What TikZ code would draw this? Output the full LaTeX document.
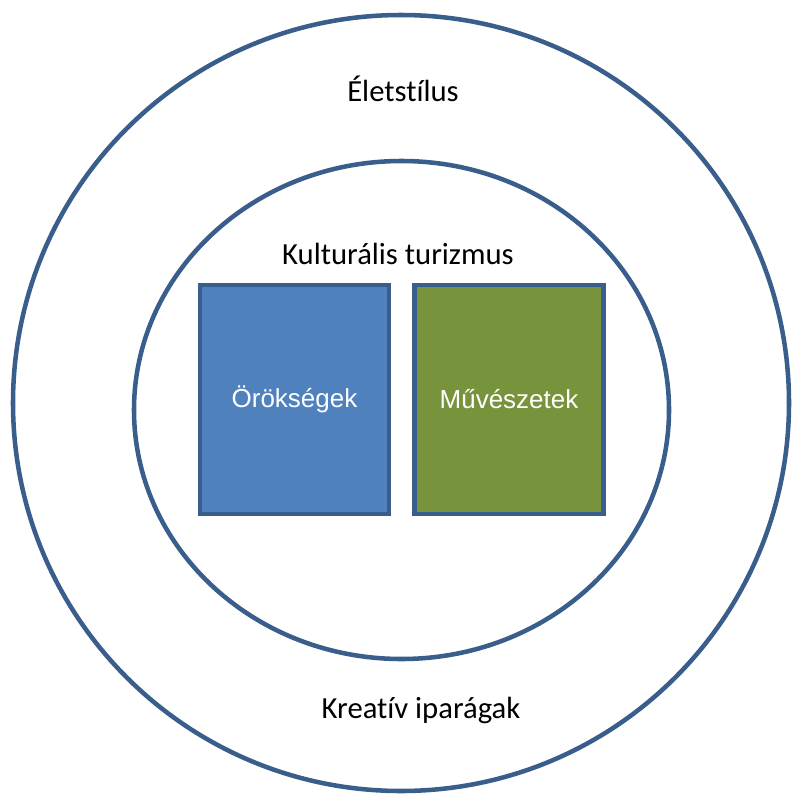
\documentclass[tikz,border=0pt]{standalone}
\usepackage{fontspec}
\setmainfont[Ligatures=NoCommon]{Carlito}
\newfontfamily\boxfont{Liberation Sans}
\usepackage{tikz}
\usetikzlibrary{shapes.geometric}
\definecolor{ringblue}{RGB}{58, 94, 140}
\definecolor{heritblue}{RGB}{79, 129, 189}
\definecolor{artgreen}{RGB}{119, 147, 60}

\begin{document}
\begin{tikzpicture}[x=0.75pt, y=-0.75pt,
  ring/.style={draw=ringblue, line width=3.4pt, inner sep=0pt},
  field/.style={draw=ringblue, line width=3.4pt, minimum width=141.75pt, minimum height=171.75pt, text=white, font=\boxfont\fontsize{19.5}{23}\selectfont},
  ringtext/.style={font=\fontsize{23}{28}\selectfont, inner sep=0pt}]
  \useasboundingbox (0,0) rectangle (792,807);

  % Rings
  \node[ring, circle, minimum size=582pt] (outer) at (401, 403) {};
  \node[ring, ellipse, minimum width=401.25pt, minimum height=373.5pt] (inner) at (401.5, 410) {};

  % Ring labels
  \node[ringtext] (life) at (403, 89) {Életstílus};
  \node[ringtext] (tour) at (398, 254) {Kulturális turizmus};
  \node[ringtext] (crea) at (421, 710) {Kreatív iparágak};

  % Fields
  \node[field, fill=heritblue] (herit) at (294.5, 399.5) {\raisebox{-4pt}{Örökségek}};
  \node[field, fill=artgreen] (arts) at (509, 399.5) {\raisebox{-4pt}{Művészetek}};
\end{tikzpicture}
\end{document}
